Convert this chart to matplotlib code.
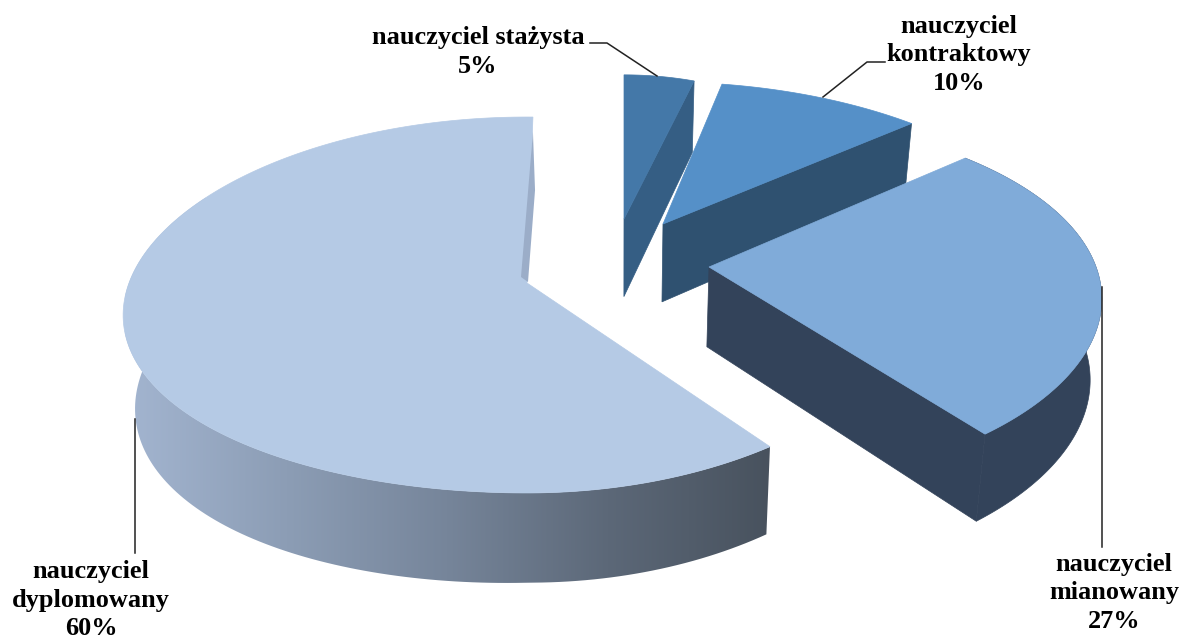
import numpy as np
import matplotlib
matplotlib.use("Agg")
import matplotlib.pyplot as plt
from matplotlib.colors import LinearSegmentedColormap
from matplotlib.patches import Polygon

# ---- data
categories = ["nauczyciel stażysta", "nauczyciel\nkontraktowy", "nauczyciel\nmianowany", "nauczyciel\ndyplomowany"]
percent = [5, 10, 27, 60]
labels = [f"{c}\n{p}%" for c, p in zip(categories, percent)]

# ---- style / layout (pixel space of the figure)
top_colors = ["#4478A8", "#5590C8", "#80ABD9", "#B5CAE5"]
wall_colors = ["#355E84", "#2F5170", "#33435A", "#9BADC8"]
apex = [(624, 219), (663, 224), (709, 267), (527, 283)]
# per-slice perspective: width, x-foreshortening, height, y-foreshortening,
# angular correction at start and end of the slice, rim flattening, extra wall depth
proj_a = [257, 381, 387, 398]
proj_px = [0.117, 0.117, 0.17, 0.17]
proj_b = [161, 142, 181.5, 185.4]
proj_py = [0.117, 0.0, 0.186, 0.117]
turn_start = [-1.5, -9.2, -6.9, -1.2]
turn_end = [-1.5, -9.5, -7.9, -0.5]
rim_flat = [0, 0, 0, 44]
extra_depth = [0, 0, 0, 12]
start_angle = 1.5
VX, S = 620.0, 0.976

W, H = 1181, 641
fig = plt.figure(figsize=(W / 100, H / 100), dpi=100)
ax = fig.add_axes([0, 0, 1, 1])
ax.set_xlim(0, W)
ax.set_ylim(H, 0)
ax.axis("off")


def rim(i, t):
    """Pie angle (deg clockwise from the back) -> screen point of the upper face."""
    t = np.radians(t)
    u, v = np.sin(t), np.cos(t)
    flat = rim_flat[i] * np.maximum(u, 0) ** 2 * (v < 0)
    return (apex[i][0] + proj_a[i] * u / (1 + proj_px[i] * v),
            apex[i][1] - proj_b[i] * v / (1 + proj_py[i] * v) - flat)


def down(x, y):
    return VX + (np.asarray(x) - VX) * S, np.asarray(y) * 1.044 + 68


fractions = np.array(percent, float) / sum(percent)
edges = start_angle + np.concatenate([[0], np.cumsum(fractions)]) * 360

for i in range(4):
    a0, a1 = edges[i] + turn_start[i], edges[i + 1] + turn_end[i]
    ts = np.linspace(a0, a1, 200)
    xr, yr = rim(i, ts)
    ax_, ay_ = apex[i]
    xb, yb = down(xr, yr)
    yb = yb + extra_depth[i] * np.maximum(-np.sin(np.radians(ts)), 0)
    bx, by = down(ax_, ay_)

    if i < 3:
        ax.add_patch(Polygon([(ax_, ay_), (xr[-1], yr[-1]), (xb[-1], yb[-1]), (bx, by)],
                             fc=wall_colors[i], ec=wall_colors[i], lw=0.5, zorder=2 + i))
    ex = np.concatenate([xr, xb[::-1]])
    ey = np.concatenate([yr, yb[::-1]])
    if i == 3:
        keep = ts <= 300  # only the front part of the rim has a visible wall
        ex = np.concatenate([xr[keep], xb[keep][::-1]])
        ey = np.concatenate([yr[keep], yb[keep][::-1]])
        cmap = LinearSegmentedColormap.from_list("wall", ["#A3B5D0", "#8C9DB5", "#76859A", "#5C6878", "#48525E"])
        im = ax.imshow(np.linspace(0, 1, 256).reshape(1, -1), cmap=cmap, aspect="auto",
                       extent=(125, 770, H, 0), zorder=2 + i)
        poly = Polygon(np.c_[ex, ey], transform=ax.transData, fc="none", ec="none")
        ax.add_patch(poly)
        im.set_clip_path(poly)
        ax.set_xlim(0, W)
        ax.set_ylim(H, 0)
    elif i == 2:
        ax.add_patch(Polygon(np.c_[ex, ey], fc=wall_colors[i], ec=wall_colors[i], lw=0.5, zorder=2 + i))
    ax.add_patch(Polygon(np.r_[[(ax_, ay_)], np.c_[xr, yr]], fc=top_colors[i], ec=top_colors[i],
                         lw=0.5, zorder=2.5 + i))

# sliver of the far cut wall of the largest slice
rx, ry = rim(3, edges[4] + turn_end[3])
rbx, rby = down(rx, ry)
ax.add_patch(Polygon([(rx, ry + 15), (rbx, rby), (apex[3][0] + 1, apex[3][1] - 1),
                      (apex[3][0] - 6, apex[3][1] - 6)],
                     fc=wall_colors[3], ec="none", zorder=6))

# ---- leader lines
lead = dict(color="#222222", lw=1.1, zorder=7)
ax.plot([590, 607, 657], [43, 43, 76], **lead)
ax.plot([885, 867, 823], [62, 62, 97], **lead)
ax.plot([1102, 1102], [287, 547], **lead)
ax.plot([135, 135], [419, 553], **lead)

# ---- labels
font = dict(fontsize=18.9, fontweight="bold", family=["Liberation Serif", "DejaVu Serif"],
            ha="center", va="center", linespacing=1.33, color="black")
ax.text(478, 52, labels[0], **font)
ax.text(959, 55, labels[1], **font)
ax.text(1114, 593, labels[2], **font)
ax.text(91, 600, labels[3], **font)

fig.savefig("out.png", dpi=100)
